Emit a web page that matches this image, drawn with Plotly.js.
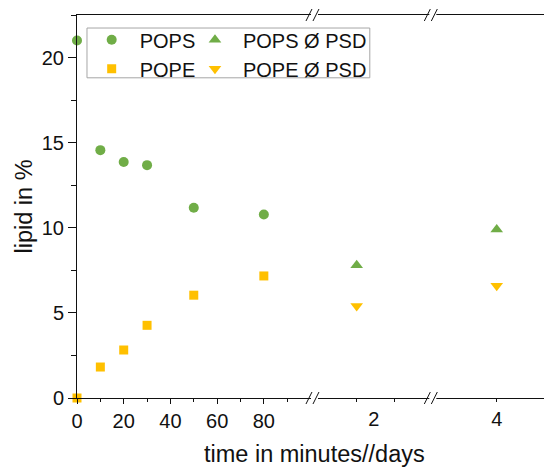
<!DOCTYPE html>
<html>
<head>
<meta charset="utf-8">
<script src="https://cdn.plot.ly/plotly-3.0.1.min.js"></script>
<style>html,body{margin:0;padding:0;background:#fff}#chart{width:544px;height:468px}</style>
</head>
<body>
<div id="chart"></div>
<script>
// ---- data ----
const minutes   = [0, 10, 20, 30, 50, 80];          // time in minutes
const popsMin   = [21.0, 14.56, 13.86, 13.68, 11.18, 10.78];
const popeMin   = [0.0, 1.82, 2.82, 4.27, 6.04, 7.17];
const days      = [2, 4];                            // time in days
const popsPSD   = [7.8, 9.9];
const popePSD   = [5.4, 6.6];
const minTickVals = [0, 20, 40, 60, 80];
const minTickText = ['0', '20', '40', '60', '80'];
const minMinor    = [10, 30, 50, 70, 90];

const green = '#70AD47', gold = '#FFC000';
const font = 'Liberation Sans, Arial, sans-serif';
const ink = '#111111';

// broken axis segments: [axis id, lower, upper]
const segs = [['x2', 1.441, 3.027], ['x3', 3.150, 4.634]];

const traces = [
  {x: minutes, y: popsMin, type: 'scatter', mode: 'markers', name: 'POPS', xaxis: 'x', yaxis: 'y',
   marker: {symbol: 'circle', size: 10, color: green}, legend: 'legend', cliponaxis: false},
  {x: minutes, y: popeMin, type: 'scatter', mode: 'markers', name: 'POPE', xaxis: 'x', yaxis: 'y',
   marker: {symbol: 'square', size: 9, color: gold}, legend: 'legend', cliponaxis: false}
];
function addDaySeries(vals, name, sym, col) {
  segs.forEach((s, i) => {
    const xs = [], ys = [];
    days.forEach((d, k) => { if (d >= s[1] && d <= s[2]) { xs.push(d); ys.push(vals[k]); } });
    traces.push({x: xs, y: ys, type: 'scatter', mode: 'markers', name: name, xaxis: s[0], yaxis: 'y',
      legendgroup: name, showlegend: i === 0, legend: 'legend2', cliponaxis: false,
      marker: {symbol: sym, size: 11, color: col}});
  });
}
addDaySeries(popsPSD, 'POPS Ø PSD', 'triangle-up', green);
addDaySeries(popePSD, 'POPE Ø PSD', 'triangle-down', gold);

const d1 = 0.5096, d2 = 0.763;
const axBase = {showline: true, linecolor: ink, linewidth: 1, mirror: true, showgrid: false, zeroline: false,
  ticks: 'outside', tickcolor: ink, tickwidth: 1, anchor: 'y', tickfont: {family: font, size: 20, color: ink},
  tickmode: 'array'};

const breaks = [d1, d2];
const shapes = [];
breaks.forEach(b => {
  [0, 1].forEach(yy => {
    shapes.push({type: 'rect', layer: 'above', xref: 'paper', yref: 'paper', xsizemode: 'pixel', ysizemode: 'pixel',
      xanchor: b, yanchor: yy, x0: -4, x1: 3, y0: -1.5, y1: 1.5, fillcolor: '#ffffff', line: {width: 0}});
    shapes.push({type: 'line', layer: 'above', xref: 'paper', yref: 'paper', xsizemode: 'pixel', ysizemode: 'pixel',
      xanchor: b, yanchor: yy, x0: -9, x1: -3, y0: -6, y1: 6, line: {color: ink, width: 1}});
    shapes.push({type: 'line', layer: 'above', xref: 'paper', yref: 'paper', xsizemode: 'pixel', ysizemode: 'pixel',
      xanchor: b, yanchor: yy, x0: -2, x1: 4, y0: -6, y1: 6, line: {color: ink, width: 1}});
  });
});
// legend frame
shapes.push({type: 'rect', layer: 'below', xref: 'paper', yref: 'paper',
  x0: 0.0214, x1: 0.627, y0: 0.836, y1: 0.966, line: {color: '#a6a6a6', width: 1}, fillcolor: '#ffffff'});

const layout = {
  width: 544, height: 468,
  margin: {l: 77, r: 0, t: 15, b: 70},
  paper_bgcolor: '#ffffff', plot_bgcolor: 'rgba(0,0,0,0)',
  font: {family: font, color: ink},
  xaxis: Object.assign({}, axBase, {domain: [0, d1], range: [0, 101.9],
    tickvals: minTickVals, ticktext: minTickText, ticklen: 5,
    minor: {tickmode: 'array', tickvals: minMinor, ticks: 'outside', ticklen: 3, tickcolor: ink}}),
  xaxis2: Object.assign({}, axBase, {domain: [d1, d2], range: [1.441, 3.027],
    tickvals: [2], ticktext: ['2'], ticklen: 3, ticklabelshift: 17,
    minor: {tickmode: 'array', tickvals: [2.5], ticks: 'outside', ticklen: 3, tickcolor: ink}}),
  xaxis3: Object.assign({}, axBase, {domain: [d2, 1], range: [3.150, 4.634],
    tickvals: [4], ticktext: ['4'], ticklen: 3}),
  yaxis: {domain: [0, 1], range: [0, 22.5], anchor: 'x', showline: true, linecolor: ink, linewidth: 1,
    showgrid: false, zeroline: false, ticks: 'outside', ticklen: 8, tickcolor: ink, dtick: 5, tick0: 0,
    tickfont: {family: font, size: 20, color: ink},
    minor: {dtick: 2.5, ticks: 'outside', ticklen: 5, tickcolor: ink}},
  showlegend: true,
  legend: {x: 0.0143, y: 0.9864, xanchor: 'left', yanchor: 'top', bgcolor: 'rgba(0,0,0,0)', borderwidth: 0,
    itemwidth: 46, font: {family: font, size: 20, color: ink}, tracegroupgap: 0},
  legend2: {x: 0.2355, y: 0.9864, xanchor: 'left', yanchor: 'top', bgcolor: 'rgba(0,0,0,0)', borderwidth: 0,
    itemwidth: 46, font: {family: font, size: 20, color: ink}, tracegroupgap: 0},
  shapes: shapes,
  annotations: [
    {text: 'time in minutes//days', xref: 'paper', yref: 'paper', x: 0.5096, y: -0.1454,
     xanchor: 'center', yanchor: 'middle', showarrow: false, font: {family: font, size: 23.5, color: ink}},
    {text: 'lipid in %', xref: 'paper', yref: 'paper', x: -0.1156, y: 0.5, textangle: -90,
     xanchor: 'center', yanchor: 'middle', showarrow: false, font: {family: font, size: 23.5, color: ink}}
  ]
};

Plotly.newPlot('chart', traces, layout, {displayModeBar: false, staticPlot: true});
</script>
</body>
</html>
